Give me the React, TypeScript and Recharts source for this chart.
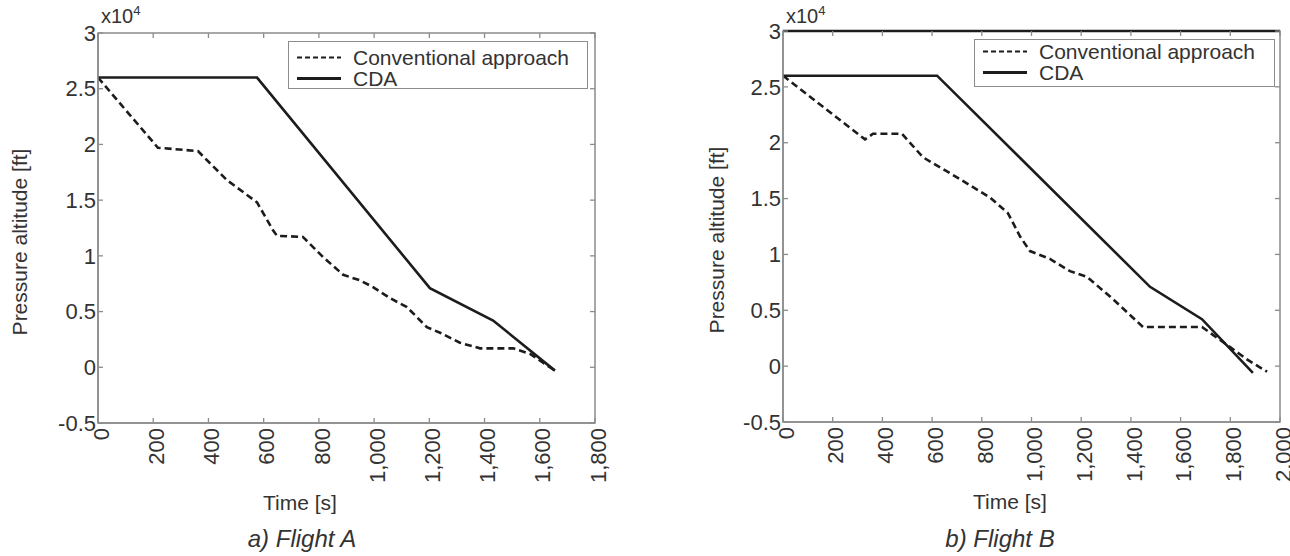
import { Legend, Line, LineChart, ReferenceArea, ReferenceLine, XAxis, YAxis } from "recharts";

const FONT = '"Liberation Sans", Arial, sans-serif';
const INK = "#1c1c1c";
const AXIS = "#8c8c8c";
const TEXT = "#333";

// altitude axis, in x10^4 ft
const altTicks = [-0.5, 0, 0.5, 1, 1.5, 2, 2.5, 3];
const altTickLabels = ["-0.5", "0", "0.5", "1", "1.5", "2", "2.5", "3"];

const seriesNames = ["Conventional approach", "CDA"];

// Flight A
const timeTicksA = [0, 200, 400, 600, 800, 1000, 1200, 1400, 1600, 1800];
const timeTickLabelsA = ["0", "200", "400", "600", "800", "1,000", "1,200", "1,400", "1,600", "1,800"];
const convTimeA = [0, 217, 362, 467, 576, 634, 648, 742, 815, 888, 949, 996, 1058, 1119, 1191, 1239, 1311, 1384, 1504, 1565, 1655];
const convAltA = [2.6, 1.97, 1.94, 1.68, 1.48, 1.23, 1.18, 1.17, 0.99, 0.83, 0.78, 0.72, 0.62, 0.54, 0.36, 0.31, 0.22, 0.17, 0.17, 0.12, -0.03];
const cdaTimeA = [0, 576, 1202, 1431, 1655];
const cdaAltA = [2.6, 2.6, 0.71, 0.42, -0.03];

// Flight B
const timeTicksB = [0, 200, 400, 600, 800, 1000, 1200, 1400, 1600, 1800, 2000];
const timeTickLabelsB = ["0", "200", "400", "600", "800", "1,000", "1,200", "1,400", "1,600", "1,800", "2,000"];
const convTimeB = [0, 330, 362, 479, 563, 700, 833, 905, 954, 994, 1074, 1155, 1223, 1328, 1449, 1686, 1787, 1867, 1948];
const convAltB = [2.6, 2.03, 2.08, 2.08, 1.87, 1.69, 1.51, 1.37, 1.16, 1.03, 0.96, 0.85, 0.8, 0.6, 0.35, 0.35, 0.19, 0.06, -0.05];
const cdaTimeB = [0, 620, 1477, 1686, 1891];
const cdaAltB = [2.6, 2.6, 0.71, 0.42, -0.06];

const toPoints = (ts: number[], vs: number[]) => ts.map((t, i) => ({ t, alt: vs[i] }));

interface PanelProps {
  left: number;
  width: number;
  plotLeft: number;
  plotRight: number;
  plotTop: number;
  plotBottom: number;
  xTicks: number[];
  xTickLabels: string[];
  conv: { t: number; alt: number }[];
  cda: { t: number; alt: number }[];
  caption: string;
  captionX: number;
  timeLabelX: number;
  yLabelX: number;
  yLabelY: number;
  legend: { left: number; top: number; width: number; rowTop: number; rowH: number };
  darkTop?: boolean;
}

function Panel(p: PanelProps) {
  const plotW = p.plotRight - p.plotLeft;
  const plotH = p.plotBottom - p.plotTop;
  const xMax = p.xTicks[p.xTicks.length - 1];

  const xTick = (props: any) => {
    const { x, y, payload } = props;
    const label = p.xTickLabels[p.xTicks.indexOf(payload.value)];
    return (
      <g>
        <line x1={x} x2={x} y1={y} y2={y - 5} stroke={AXIS} strokeWidth={1.3} />
        <line x1={x} x2={x} y1={y - plotH} y2={y - plotH + 5} stroke={AXIS} strokeWidth={1.3} />
        <text
          transform={`translate(${x + 3},${y + 5}) rotate(-90)`}
          textAnchor="end"
          dy="0.35em"
          fontSize={22}
          fontFamily={FONT}
          fill={TEXT}
        >
          {label}
        </text>
      </g>
    );
  };

  const yTick = (props: any) => {
    const { x, y, payload } = props;
    const label = altTickLabels[altTicks.indexOf(payload.value)];
    return (
      <g>
        <line x1={x} x2={x + 5} y1={y} y2={y} stroke={AXIS} strokeWidth={1.3} />
        <line x1={x + plotW} x2={x + plotW - 5} y1={y} y2={y} stroke={AXIS} strokeWidth={1.3} />
        <text x={x - 2} y={y} dy="0.35em" textAnchor="end" fontSize={22} fontFamily={FONT} fill={TEXT}>
          {label}
        </text>
      </g>
    );
  };

  const legendContent = () => (
    <div
      style={{
        width: p.legend.width,
        height: 48,
        boxSizing: "border-box",
        border: `1.5px solid ${AXIS}`,
        background: "#fff",
        paddingTop: p.legend.rowTop,
        fontFamily: FONT,
        fontSize: 21,
        color: TEXT,
      }}
    >
      {seriesNames.map((name, i) => (
        <div key={name} style={{ display: "flex", alignItems: "center", height: p.legend.rowH }}>
          <svg width={64} height={p.legend.rowH} style={{ flex: "none" }}>
            <line
              x1={8}
              x2={52}
              y1={p.legend.rowH / 2}
              y2={p.legend.rowH / 2}
              stroke={INK}
              strokeWidth={i === 0 ? 2 : 3}
              strokeDasharray={i === 0 ? "5 3" : undefined}
            />
          </svg>
          <span style={{ lineHeight: 1 }}>{name}</span>
        </div>
      ))}
    </div>
  );

  return (
    <div style={{ position: "absolute", left: p.left, top: 0, width: p.width, height: 556 }}>
      <LineChart
        width={p.width}
        height={556}
        margin={{ top: p.plotTop, left: p.plotLeft - 60, right: p.width - p.plotRight, bottom: 556 - p.plotBottom - 60 }}
        style={{ overflow: "visible" }}
      >
        <XAxis
          type="number"
          dataKey="t"
          domain={[0, xMax]}
          ticks={p.xTicks}
          allowDataOverflow
          height={60}
          tickSize={0}
          tickMargin={0}
          tickLine={false}
          axisLine={{ stroke: AXIS, strokeWidth: 1.5 }}
          tick={xTick}
          interval={0}
          label={{
            content: () => (
              <text x={p.timeLabelX} y={p.plotBottom + 80} textAnchor="middle" dy="0.35em" fontSize={21} fontFamily={FONT} fill={TEXT}>
                Time [s]
              </text>
            ),
          }}
        />
        <YAxis
          type="number"
          domain={[-0.5, 3]}
          ticks={altTicks}
          allowDataOverflow
          width={60}
          tickSize={0}
          tickMargin={0}
          tickLine={false}
          axisLine={{ stroke: AXIS, strokeWidth: 1.5 }}
          tick={yTick}
          interval={0}
          label={{
            content: () => (
              <text
                transform={`translate(${p.yLabelX},${p.yLabelY}) rotate(-90)`}
                textAnchor="middle"
                dy="0.35em"
                fontSize={21}
                fontFamily={FONT}
                fill={TEXT}
              >
                Pressure altitude [ft]
              </text>
            ),
          }}
        />
        <ReferenceArea x1={0} x2={xMax} y1={-0.5} y2={3} fill="none" stroke={AXIS} strokeWidth={1.5} ifOverflow="visible" />
        {p.darkTop && <ReferenceLine y={3} stroke={INK} strokeWidth={2.5} ifOverflow="visible" />}
        <Legend
          layout="vertical"
          align="center"
          verticalAlign="middle"
          wrapperStyle={{ left: p.legend.left, top: p.legend.top, width: p.legend.width, height: 48 }}
          content={legendContent}
        />
        <Line
          data={p.conv}
          dataKey="alt"
          name={seriesNames[0]}
          type="linear"
          stroke={INK}
          strokeWidth={2.6}
          strokeDasharray="7 4"
          dot={false}
          isAnimationActive={false}
        />
        <Line
          data={p.cda}
          dataKey="alt"
          name={seriesNames[1]}
          type="linear"
          stroke={INK}
          strokeWidth={2.6}
          dot={false}
          isAnimationActive={false}
        />
      </LineChart>
      <div
        style={{
          position: "absolute",
          left: p.plotLeft + 3,
          top: 6,
          fontFamily: FONT,
          fontSize: 20,
          color: TEXT,
          lineHeight: 1,
        }}
      >
        x10<span style={{ fontSize: 13, position: "relative", top: -8 }}>4</span>
      </div>
      <div
        style={{
          position: "absolute",
          left: p.captionX - 100,
          width: 200,
          top: 527,
          textAlign: "center",
          fontFamily: FONT,
          fontStyle: "italic",
          fontSize: 24,
          color: TEXT,
          lineHeight: 1,
        }}
      >
        {p.caption}
      </div>
    </div>
  );
}

export default function App() {
  return (
    <div style={{ position: "absolute", left: 0, top: 0, width: 1290, height: 556, background: "#fff" }}>
      <Panel
        left={0}
        width={640}
        plotLeft={98}
        plotRight={595}
        plotTop={33}
        plotBottom={423}
        xTicks={timeTicksA}
        xTickLabels={timeTickLabelsA}
        conv={toPoints(convTimeA, convAltA)}
        cda={toPoints(cdaTimeA, cdaAltA)}
        caption="a) Flight A"
        captionX={302}
        timeLabelX={300}
        yLabelX={20}
        yLabelY={242}
        legend={{ left: 288, top: 41, width: 300, rowTop: 5, rowH: 21 }}
      />
      <Panel
        left={680}
        width={610}
        plotLeft={103}
        plotRight={600}
        plotTop={31}
        plotBottom={422}
        xTicks={timeTicksB}
        xTickLabels={timeTickLabelsB}
        conv={toPoints(convTimeB, convAltB)}
        cda={toPoints(cdaTimeB, cdaAltB)}
        caption="b) Flight B"
        captionX={320}
        timeLabelX={330}
        yLabelX={37}
        yLabelY={240}
        legend={{ left: 294, top: 39, width: 301, rowTop: 1, rowH: 21 }}
        darkTop
      />
    </div>
  );
}
